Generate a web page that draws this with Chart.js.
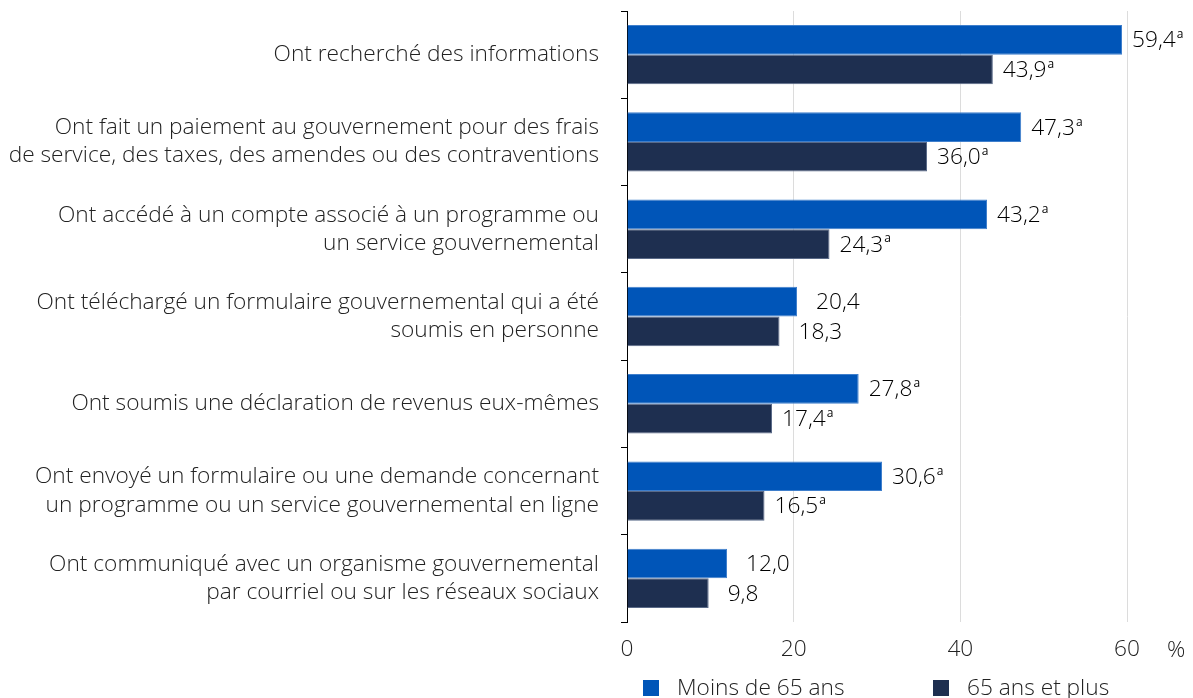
<!DOCTYPE html>
<html lang="fr">
<head>
<meta charset="utf-8">
<script src="https://cdn.jsdelivr.net/npm/chart.js@4"></script>
<style>
  html, body { margin: 0; padding: 0; background: #fff; }
  #wrap { width: 1193px; height: 698px; position: relative; }
</style>
</head>
<body>
<div id="wrap"><canvas id="graphique"></canvas></div>
<script>
const categories = [
  "Ont recherché des informations",
  ["Ont fait un paiement au gouvernement pour des frais", "de service, des taxes, des amendes ou des contraventions"],
  ["Ont accédé à un compte associé à un programme ou", "un service gouvernemental"],
  ["Ont téléchargé un formulaire gouvernemental qui a été", "soumis en personne"],
  "Ont soumis une déclaration de revenus eux-mêmes",
  ["Ont envoyé un formulaire ou une demande concernant", "un programme ou un service gouvernemental en ligne"],
  ["Ont communiqué avec un organisme gouvernemental", "par courriel ou sur les réseaux sociaux"]
];
const moins65 = [59.4, 47.3, 43.2, 20.4, 27.8, 30.6, 12.0];
const plus65 = [43.9, 36.0, 24.3, 18.3, 17.4, 16.5, 9.8];
// note « a » : différence significative
const noteMoins65 = ["a", "a", "a", "", "a", "a", ""];
const notePlus65 = ["a", "a", "a", "", "a", "a", ""];
const graduations = [0, 20, 40, 60];

const police = "'Open Sans', 'Noto Sans', sans-serif";
const taille = 22.7;

const etiquettes = {
  id: "etiquettes",
  afterDatasetsDraw(chart) {
    const ctx = chart.ctx;
    const notes = [noteMoins65, notePlus65];
    ctx.save();
    ctx.fillStyle = "#000";
    ctx.textBaseline = "middle";
    chart.data.datasets.forEach((ds, di) => {
      chart.getDatasetMeta(di).data.forEach((bar, i) => {
        const txt = ds.data[i].toFixed(1).replace(".", ",");
        const note = notes[di][i];
        let x = bar.x + (note ? 10 : 19);
        ctx.font = "300 " + taille + "px " + police;
        ctx.textAlign = "left";
        ctx.fillText(txt, x, bar.y + 1);
        if (note) {
          const w = ctx.measureText(txt).width;
          ctx.font = "12px " + police;
          ctx.fillText(note, x + w + 1, bar.y - 5);
        }
      });
    });
    ctx.restore();
  },
  afterDraw(chart) {
    const ctx = chart.ctx;
    const x = chart.scales.x;
    ctx.save();
    ctx.fillStyle = "#222";
    ctx.font = "300 " + taille + "px " + police;
    ctx.textBaseline = "middle";
    ctx.textAlign = "left";
    ctx.fillText("%", x.right + 40, 651);
    // légende
    let lx = 643;
    chart.data.datasets.forEach((ds, di) => {
      ctx.fillStyle = ds.backgroundColor;
      ctx.fillRect(lx, 680, 16, 16);
      ctx.fillStyle = "#222";
      ctx.fillText(ds.label, lx + 34, 689);
      lx = 933;
    });
    ctx.restore();
  }
};

new Chart(document.getElementById("graphique"), {
  type: "bar",
  data: {
    labels: categories,
    datasets: [
      { label: "Moins de 65 ans", data: moins65, backgroundColor: "#0055b8", borderColor: "#3f7fcc", borderWidth: 1 },
      { label: "65 ans et plus", data: plus65, backgroundColor: "#1e2f50", borderColor: "#5a6a88", borderWidth: 1 }
    ]
  },
  options: {
    indexAxis: "y",
    responsive: true,
    maintainAspectRatio: false,
    animation: false,
    layout: { padding: { top: 11, right: 66, bottom: 0, left: 0 } },
    categoryPercentage: 0.68,
    barPercentage: 1,
    plugins: { legend: { display: false }, tooltip: { enabled: false } },
    scales: {
      x: {
        min: 0,
        max: 60,
        afterBuildTicks: (s) => { s.ticks = graduations.map(v => ({ value: v })); },
        afterFit: (s) => { s.height = 76; s.paddingLeft = 0; s.paddingRight = 0; },
        border: { display: false },
        grid: {
          drawTicks: false,
          color: (c) => c.tick && c.tick.value === 0 ? "rgba(0,0,0,0)" : "#dcdcdc"
        },
        ticks: { color: "#222", font: { family: police, size: taille, weight: 300 }, padding: 14 }
      },
      y: {
        afterFit: (s) => { s.width = 627; s.paddingTop = 0; s.paddingBottom = 0; },
        border: { display: true, color: "#000", width: 1 },
        grid: { offset: true, drawOnChartArea: false, drawTicks: true, tickLength: 6, color: "#000" },
        ticks: { color: "#222", font: { family: police, size: taille, weight: 300, lineHeight: 1.24 }, padding: 22 }
      }
    }
  },
  plugins: [etiquettes]
});
</script>
</body>
</html>
